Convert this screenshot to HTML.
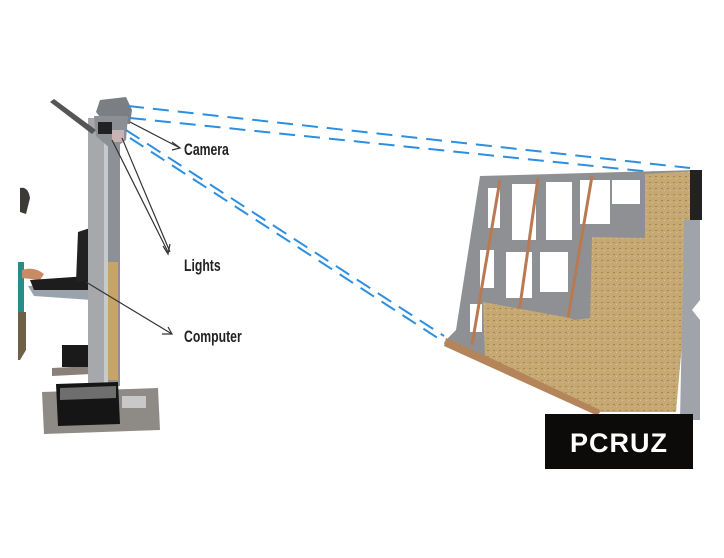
<!DOCTYPE html>
<html><head><style>
html,body{margin:0;padding:0;background:#fff;width:724px;height:558px;overflow:hidden}
svg{display:block}
.t{font-family:"Liberation Sans",sans-serif;font-size:17px;font-weight:bold;fill:#222}
</style></head><body>
<svg width="724" height="558" viewBox="0 0 724 558" xmlns="http://www.w3.org/2000/svg">
<defs>
<pattern id="osb" width="6" height="6" patternUnits="userSpaceOnUse">
<rect width="6" height="6" fill="#c6a872"/>
<rect x="1" y="2" width="2" height="1" fill="#a8864f"/>
<rect x="4" y="4" width="1" height="1" fill="#dcc394"/>
</pattern>
</defs>
<!-- person -->
<path d="M20 188 Q28 186 30 198 L26 214 L20 212 Z" fill="#3b3a36"/>
<rect x="18" y="262" width="6" height="60" fill="#2a8c8a"/>
<path d="M18 312 L26 312 L26 350 L20 360 L18 360Z" fill="#6e6148"/>
<path d="M22 270 Q34 266 44 274 L40 280 L22 278Z" fill="#c98a66"/>
<!-- laptop desk -->
<path d="M28 286 L90 282 L92 300 L34 296 Z" fill="#9aa3ab"/>
<path d="M30 280 L88 276 L90 290 L34 290 Z" fill="#1d1d1d"/>
<path d="M78 232 L90 228 L90 280 L76 282 Z" fill="#222"/>
<!-- lower shelf & box -->
<path d="M52 368 L92 366 L92 374 L52 376Z" fill="#8a8078"/>
<rect x="62" y="345" width="28" height="22" fill="#1a1a1a"/>
<!-- pole -->
<rect x="88" y="118" width="18" height="270" fill="#a6a8ab"/>
<rect x="104" y="128" width="16" height="258" fill="#8d9094"/>
<rect x="106" y="262" width="12" height="118" fill="#c9a46a"/>
<rect x="104" y="136" width="4" height="250" fill="#c7c9cc"/>
<!-- arm and head -->
<path d="M50 102 L54 99 L96 130 L92 134Z" fill="#555"/>
<path d="M100 100 L126 97 L132 110 L130 124 L104 122 L96 112 Z" fill="#7b7e82"/>
<path d="M94 116 L128 116 L126 140 L112 150 L96 136Z" fill="#8c8f93"/>
<rect x="98" y="122" width="14" height="12" fill="#222"/>
<rect x="112" y="130" width="12" height="12" fill="#c9b2b4"/>
<!-- base -->
<path d="M42 392 L158 388 L160 430 L44 434 Z" fill="#8e8a86"/>
<path d="M56 384 L118 382 L120 424 L58 426Z" fill="#151515"/>
<path d="M60 388 L116 386 L116 398 L60 400Z" fill="#6e6e6e"/>
<rect x="122" y="396" width="24" height="12" fill="#c8c8c8"/>
<!-- blue dashed lines -->
<g stroke="#2c8fe0" stroke-width="2" stroke-dasharray="16,9" fill="none">
<line x1="128" y1="106" x2="690" y2="168"/>
<line x1="130" y1="118" x2="690" y2="176"/>
<line x1="126" y1="130" x2="444" y2="336"/>
<line x1="130" y1="138" x2="450" y2="346"/>
<line x1="456" y1="340" x2="600" y2="412"/>
</g>
<!-- wall panel -->
<path d="M480 176 L696 170 L690 180 L676 412 L600 412 L446 340 L456 330 Z" fill="#8e9094"/>
<g fill="#fff">
<rect x="488" y="188" width="12" height="40"/>
<rect x="512" y="184" width="24" height="56"/>
<rect x="546" y="182" width="26" height="58"/>
<rect x="580" y="180" width="30" height="44"/>
<rect x="612" y="180" width="28" height="24"/>
<rect x="506" y="252" width="26" height="46"/>
<rect x="540" y="252" width="28" height="40"/>
<rect x="480" y="250" width="14" height="38"/>
<rect x="470" y="304" width="12" height="28"/>
</g>
<g stroke="#b87a52" stroke-width="3">
<line x1="500" y1="180" x2="472" y2="345"/>
<line x1="538" y1="178" x2="518" y2="320"/>
<line x1="592" y1="176" x2="568" y2="318"/>
</g>
<path d="M645 174 L697 171 L676 412 L598 412 L485 357 L483 302 L570 318 L574 320 L590 318 L592 237 L645 238 Z" fill="url(#osb)"/>
<path d="M446 338 L486 356 L600 410 L598 416 L444 346Z" fill="#b4845a"/>
<rect x="690" y="170" width="12" height="50" fill="#222"/>
<path d="M684 220 L700 220 L700 300 L692 310 L700 320 L700 420 L680 420 Z" fill="#a0a4aa"/>
<!-- pointer lines -->
<g stroke="#333" stroke-width="1.2" fill="none">
<line x1="130" y1="122" x2="180" y2="148"/>
<polyline points="172,142 180,148 172,150"/>
<line x1="112" y1="140" x2="168" y2="252"/>
<line x1="122" y1="138" x2="170" y2="252"/>
<polyline points="163,246 168,254 170,244"/>
<line x1="86" y1="282" x2="172" y2="334"/>
<polyline points="162,334 172,334 168,327"/>
</g>
<text class="t" x="184" y="155" transform="translate(184 0) scale(0.72 1) translate(-184 0)">Camera</text>
<text class="t" x="184" y="271" transform="translate(184 0) scale(0.72 1) translate(-184 0)">Lights</text>
<text class="t" x="184" y="342" transform="translate(184 0) scale(0.72 1) translate(-184 0)">Computer</text>
<!-- logo -->
<rect x="545" y="414" width="148" height="55" fill="#0d0b0a"/>
<text x="619" y="452" text-anchor="middle" font-family="Liberation Sans,sans-serif" font-size="27" font-weight="bold" fill="#fff" letter-spacing="1">PCRUZ</text>
</svg>
</body></html>
